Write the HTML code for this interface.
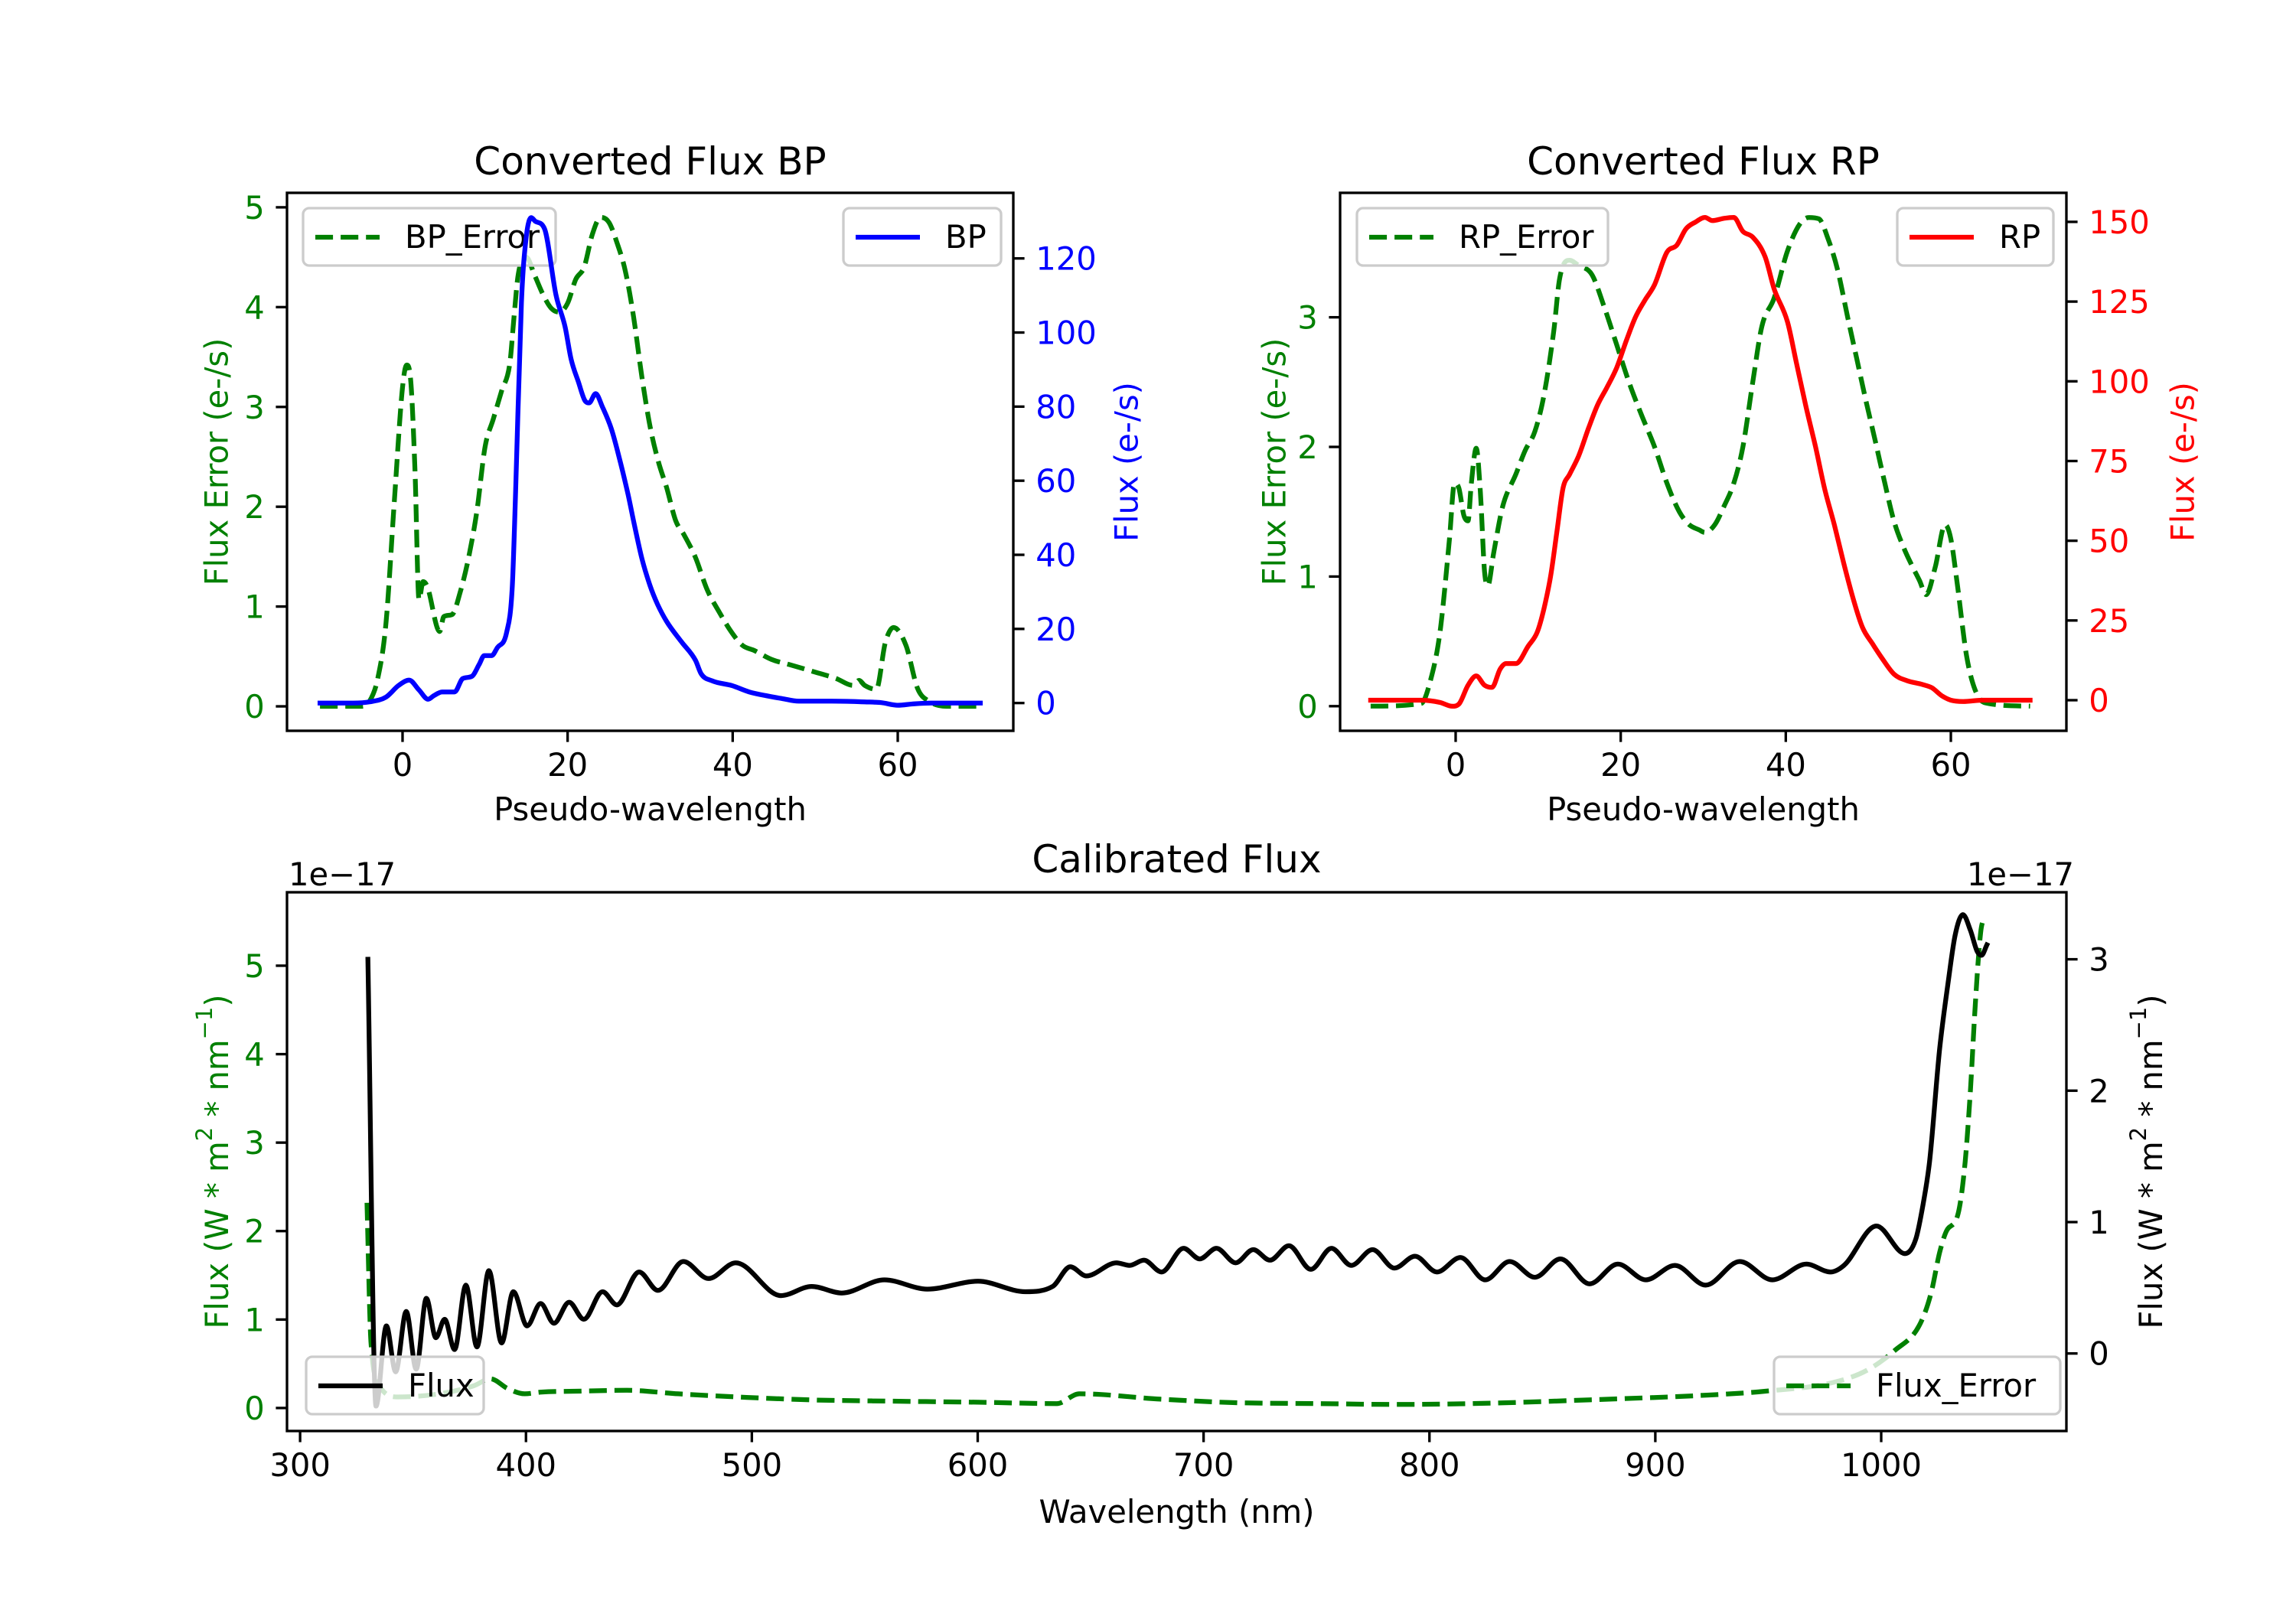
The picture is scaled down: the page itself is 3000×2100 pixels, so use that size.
<!DOCTYPE html>
<html><head><meta charset="utf-8"><style>
html,body{margin:0;padding:0;background:#fff;}
svg{display:block;font-family:"DejaVu Sans","Liberation Sans",sans-serif;}
</style></head><body>
<svg id="fig" xmlns="http://www.w3.org/2000/svg" width="3000" height="2100" viewBox="0 0 3000 2100">
<rect width="3000" height="2100" fill="#fff"/>
</svg>
<script>
// ---- BP panel data ----
const bpFluxX=[-10,-6,-4,-2,-0.5,0.8,2,3.1,3.8,4.8,6.3,7.3,8.4,9.3,9.9,10.8,11.5,12.6,13.3,13.7,14.4,15.0,15.6,16.1,17.2,18.6,19.7,20.4,21.3,22.1,22.6,23.4,24.2,25.3,26.2,27.3,28.1,29.0,30.0,30.9,32.0,33.8,35.5,36.2,37.5,39.9,42,44,46,48,52,56,58,60,62,64,70];
const bpFluxY=[0,0,0.3,1.6,4.7,6.2,3.5,1,2,3,3,6.6,7.2,10.5,12.8,12.8,15,19,31.6,57,108,126,131,130,128,110,101.5,93,86.7,81.6,81,83.5,80,74,66.7,56.5,48,39,31.6,26.6,22,16.5,11.5,7.8,6,4.7,3,2,1.2,0.5,0.5,0.3,0.1,-0.6,-0.2,0,0];
const bpErrX=[-10,-5,-4,-3,-2,-1,0,0.5,1,1.5,2,2.5,3,4.5,5,6,7,8,9,10,11,12,13,13.5,14,15,16,17,18,19,20,21,22,23,24,25,26,27,28,29,30,31,32,33.1,34.1,35.5,36.9,38.4,39.8,41.2,42.6,44.7,46.8,49.7,52.5,54.6,55.3,56,57.4,58.5,59.5,61,62.4,63.8,65.9,70];
const bpErrY=[0,0,0.05,0.28,0.84,2.05,3.2,3.42,3.25,2.37,1.07,1.25,1.2,0.75,0.9,0.92,1.15,1.49,1.95,2.6,2.88,3.16,3.44,3.9,4.32,4.5,4.32,4.13,3.99,3.95,4.04,4.28,4.4,4.73,4.9,4.85,4.64,4.36,3.9,3.3,2.8,2.45,2.19,1.86,1.72,1.49,1.17,0.94,0.75,0.61,0.56,0.47,0.42,0.35,0.28,0.21,0.26,0.21,0.17,0.64,0.79,0.61,0.18,0.05,0,0];
// ---- RP panel data ----
const rpErrX=[-10.3,-4.2,-3.0,-1.9,-0.75,-0.14,0.4,1.0,1.5,1.9,2.5,3.0,3.5,3.9,4.6,5.7,7.3,8.4,9.6,10.7,11.9,12.6,13.8,14.9,16.5,18.0,19.5,21.0,22.5,24.1,25.6,27.1,28.3,29.5,30.2,31.4,32.5,33.7,34.8,36.0,37.1,38.6,40.2,41.7,42.8,44.0,45.1,46.3,47.5,48.6,49.7,50.9,52.0,53.1,54.3,55.4,56.2,57.0,58.1,59.3,60.0,60.8,61.9,63.1,64.6,69.6];
const rpErrY=[0,0.02,0.21,0.57,1.29,1.72,1.68,1.47,1.43,1.72,1.99,1.65,1.04,0.93,1.18,1.54,1.79,1.97,2.12,2.4,2.9,3.3,3.44,3.4,3.33,3.08,2.79,2.5,2.25,2.0,1.72,1.5,1.4,1.36,1.34,1.4,1.54,1.72,2.0,2.5,2.93,3.15,3.51,3.72,3.77,3.76,3.61,3.36,3.0,2.68,2.36,2.03,1.72,1.43,1.22,1.07,0.97,0.86,1.07,1.4,1.29,0.93,0.39,0.1,0.02,0];
const rpFluxX=[-10.3,-4.2,-1.9,-0.4,0.4,1.5,2.5,3.5,4.4,5.4,6.1,7.3,8.8,9.9,10.7,11.5,12.3,13.0,13.8,14.9,16.1,17.2,18.4,19.5,20.7,21.8,22.9,24.1,25.6,26.8,27.9,29.1,30.2,31.1,32.5,33.7,34.8,36.0,37.5,38.6,40.2,41.3,42.4,43.6,44.7,45.9,47.0,48.2,49.3,50.5,51.6,53.1,54.7,56.6,57.7,58.9,60.0,61.5,63.8,69.6];
const rpFluxY=[0,0,-0.7,-1.9,-1.2,4.7,7.6,4.7,4.0,9.8,11.5,11.5,17,21.4,28.7,38.8,53.4,66.4,70.8,76.6,85.3,92.6,98.4,104.2,112.9,120.2,125.3,130.3,140.5,142.7,147.8,150,151.4,150.4,151.1,151.4,147,145.2,139,128.9,118.7,105.6,92.6,79.5,66.4,54.8,43.2,31.5,22.8,17.7,13.4,8.2,6.1,4.9,3.9,1.4,0,-0.4,0,0];
// ---- Calibrated panel data (units of 1e-17) ----
const calFluxX=[330,333.6,338.2,342.3,347.0,351.4,355.9,360.1,364.0,368.4,373.4,378.3,383.6,389.2,394.4,400.5,406.5,412.4,419.1,425.6,433.9,440.2,450.1,458.4,469.7,480.8,492.9,512.9,526.5,539.8,558.7,577.7,600.1,621.1,633.2,641.0,648.1,661.4,667.2,673.6,681.4,691.1,698.3,705.7,714.2,722.0,729.4,737.8,747.5,756.6,765.4,774.8,784.5,793.6,803.3,813.7,824.7,835.5,846.7,858.0,870.9,883.4,895.8,908.7,922.3,937.4,951.8,966.9,977.5,983.5,997.9,1010.5,1015.3,1018.6,1021.4,1025.9,1029.7,1032.7,1036.2,1039.5,1042.5,1044.4,1046.8];
const calFluxY=[3.0,-0.40,0.21,-0.14,0.32,-0.12,0.42,0.12,0.26,0.03,0.52,0.05,0.63,0.08,0.47,0.21,0.38,0.23,0.39,0.26,0.47,0.37,0.62,0.48,0.70,0.57,0.69,0.44,0.51,0.46,0.56,0.49,0.55,0.47,0.51,0.66,0.59,0.69,0.67,0.71,0.62,0.80,0.72,0.80,0.69,0.79,0.71,0.82,0.64,0.80,0.67,0.79,0.65,0.74,0.62,0.73,0.56,0.70,0.58,0.72,0.53,0.68,0.56,0.67,0.52,0.70,0.56,0.68,0.62,0.67,0.97,0.76,0.87,1.14,1.46,2.32,2.83,3.18,3.34,3.22,3.06,3.03,3.11];
const calErrX=[329.6,331.4,335.9,343.5,361.6,376.8,384.3,391.9,399.4,407,422,444.7,467.4,497.7,528,553.4,600,635,645,681,714,750,785,827.8,873.6,918.5,948.7,979,994,1006,1016.8,1022,1025.9,1028.9,1034.1,1037.2,1039.5,1041.7,1044,1045.5];
const calErrY=[2.32,0.73,0.22,0.125,0.16,0.25,0.33,0.22,0.16,0.18,0.19,0.2,0.16,0.12,0.09,0.08,0.065,0.05,0.16,0.10,0.06,0.05,0.04,0.055,0.095,0.14,0.19,0.29,0.43,0.65,0.93,1.29,1.76,2.0,2.2,2.79,3.59,4.58,5.37,5.55];
// ---- tick labels ----
const pwTicks=[0,20,40,60];
const bpErrTicks=[0,1,2,3,4,5];
const bpFluxTicks=[0,20,40,60,80,100,120];
const rpErrTicks=[0,1,2,3];
const rpFluxTicks=[0,25,50,75,100,125,150];
const wlTicks=[300,400,500,600,700,800,900,1000];
const calErrTicks=[0,1,2,3,4,5];
const calFluxTicks=[0,1,2,3];

const NS='http://www.w3.org/2000/svg';
const svg=document.getElementById('fig');
const FS=41.7, TL=14.6, LW=6.25, SW=3.33, PAD=29.2;
const DASH='23.1 10';
const GREEN='#008000';
function mk(tag,attrs,parent){const e=document.createElementNS(NS,tag);for(const k in attrs)e.setAttribute(k,attrs[k]);(parent||svg).appendChild(e);return e;}
function txt(s,x,y,opt,parent){const e=mk('text',Object.assign({x:x,y:y,'font-size':FS,fill:'#000'},opt||{}),parent);e.textContent=s;return e;}
function scale(d0,d1,p0,p1){return v=>p0+(v-d0)/(d1-d0)*(p1-p0);}

function monoPath(px,py){
  const n=Math.min(px.length,py.length);if(n<2)return '';
  const d=[],m=new Array(n);
  for(let i=0;i<n-1;i++)d.push((py[i+1]-py[i])/((px[i+1]-px[i])||1e-6));
  m[0]=d[0];m[n-1]=d[n-2];
  for(let i=1;i<n-1;i++){m[i]=(d[i-1]*d[i]<=0)?0:(d[i-1]+d[i])/2;}
  for(let i=0;i<n-1;i++){
    if(d[i]===0){m[i]=0;m[i+1]=0;continue;}
    const a=m[i]/d[i],b=m[i+1]/d[i],s=a*a+b*b;
    if(s>9){const t=3/Math.sqrt(s);m[i]=t*a*d[i];m[i+1]=t*b*d[i];}
  }
  let p='M'+px[0].toFixed(1)+','+py[0].toFixed(1);
  for(let i=0;i<n-1;i++){const h=(px[i+1]-px[i])/3;
    p+=' C'+(px[i]+h).toFixed(1)+','+(py[i]+m[i]*h).toFixed(1)+' '+(px[i+1]-h).toFixed(1)+','+(py[i+1]-m[i+1]*h).toFixed(1)+' '+px[i+1].toFixed(1)+','+py[i+1].toFixed(1);}
  return p;
}
function series(xs,ys,sx,sy,color,dashed,name,parent){
  const n=Math.min(xs.length,ys.length);
  const px=[],py=[];for(let i=0;i<n;i++){px.push(sx(xs[i]));py.push(sy(ys[i]));}
  const e=mk('path',{d:monoPath(px,py),fill:'none',stroke:color,'stroke-width':LW,'stroke-linejoin':'round','stroke-linecap':dashed?'butt':'square'},parent);
  if(dashed)e.setAttribute('stroke-dasharray',DASH);
  
  
  return e;
}
function legend(x,y,w,label,color,dashed,name){
  const g=mk('g',{});
  
  
  mk('rect',{x:x,y:y,width:w,height:75,rx:8,fill:'rgba(255,255,255,0.8)',stroke:'#cccccc','stroke-width':SW},g);
  const l=mk('line',{x1:x+16,y1:y+38,x2:x+100,y2:y+38,stroke:color,'stroke-width':LW},g);
  if(dashed)l.setAttribute('stroke-dasharray',DASH);
  txt(label,x+133,y+52,{},g);
}
function frame(L,T,R,B,name){
  const e=mk('rect',{x:L,y:T,width:R-L,height:B-T,fill:'none',stroke:'#000','stroke-width':SW});
  
  
}
function xTicks(ticks,sx,B,labY,name){
  const g=mk('g',{});
  
  
  ticks.forEach(t=>{const x=sx(t);mk('line',{x1:x,y1:B,x2:x,y2:B+TL,stroke:'#000','stroke-width':SW},g);
    txt(String(t),x,labY,{'text-anchor':'middle'},g);});
}
function yTicks(ticks,sy,X,side,color,name){
  const g=mk('g',{});
  
  
  ticks.forEach(t=>{const y=sy(t);const x2=side==='left'?X-TL:X+TL;
    mk('line',{x1:X,y1:y,x2:x2,y2:y,stroke:'#000','stroke-width':SW},g);
    txt(String(t),side==='left'?X-PAD:X+PAD,y+15,{'text-anchor':side==='left'?'end':'start',fill:color},g);});
}
function vlabel(s,x,y,color,name){
  const e=txt(s,x,y,{'text-anchor':'middle',fill:color,transform:'rotate(-90 '+x+' '+y+')','dominant-baseline':'central'});
  
  
  return e;
}
function label(s,x,y,size,name,anchor){
  const e=txt(s,x,y,{'text-anchor':anchor||'middle','font-size':size});
  
  
}

// ===== BP panel =====
(function(){
  const L=375,R=1324,T=252,B=955;
  const sx=scale(-14,74,L,R), syE=scale(-0.245,5.145,B,T), syF=scale(-7.5,137.7,B,T);
  series(bpErrX,bpErrY,sx,syE,GREEN,true,'bp-error-line');
  legend(396,272,330,'BP_Error',GREEN,true,'bp-error-legend');
  series(bpFluxX,bpFluxY,sx,syF,'#0000ff',false,'bp-flux-line');
  legend(1102,272,206,'BP','#0000ff',false,'bp-legend');
  frame(L,T,R,B,'bp-axes-frame');
  xTicks(pwTicks,sx,B,1014,'bp-x-ticks');
  yTicks(bpErrTicks,syE,L,'left',GREEN,'bp-error-y-ticks');
  yTicks(bpFluxTicks,syF,R,'right','#0000ff','bp-flux-y-ticks');
  label('Converted Flux BP',(L+R)/2,228,50,'bp-title');
  label('Pseudo-wavelength',(L+R)/2,1072,FS,'bp-x-axis-title');
  vlabel('Flux Error (e-/s)',283,(T+B)/2,GREEN,'bp-error-y-axis-title');
  vlabel('Flux (e-/s)',1472,(T+B)/2,'#0000ff','bp-flux-y-axis-title');
})();

// ===== RP panel =====
(function(){
  const L=1751,R=2700,T=252,B=955;
  const sx=scale(-14,74,L,R), syE=scale(-0.19,3.96,B,T), syF=scale(-9.6,159.1,B,T);
  series(rpErrX,rpErrY,sx,syE,GREEN,true,'rp-error-line');
  legend(1773,272,328,'RP_Error',GREEN,true,'rp-error-legend');
  series(rpFluxX,rpFluxY,sx,syF,'#ff0000',false,'rp-flux-line');
  legend(2479,272,204,'RP','#ff0000',false,'rp-legend');
  frame(L,T,R,B,'rp-axes-frame');
  xTicks(pwTicks,sx,B,1014,'rp-x-ticks');
  yTicks(rpErrTicks,syE,L,'left',GREEN,'rp-error-y-ticks');
  yTicks(rpFluxTicks,syF,R,'right','#ff0000','rp-flux-y-ticks');
  label('Converted Flux RP',(L+R)/2,228,50,'rp-title');
  label('Pseudo-wavelength',(L+R)/2,1072,FS,'rp-x-axis-title');
  vlabel('Flux Error (e-/s)',1665,(T+B)/2,GREEN,'rp-error-y-axis-title');
  vlabel('Flux (e-/s)',2852,(T+B)/2,'#ff0000','rp-flux-y-axis-title');
})();

// ===== Calibrated panel =====
(function(){
  const L=375,R=2700,T=1166,B=1870;
  const sx=scale(294.2,1082,L,R), syE=scale(-0.26,5.83,B,T), syF=scale(-0.59,3.51,B,T);
  const clip=mk('clipPath',{id:'calclip'});mk('rect',{x:L,y:T,width:R-L,height:B-T},clip);
  const g=mk('g',{'clip-path':'url(#calclip)'});
  series(calErrX,calErrY,sx,syE,GREEN,true,'calibrated-flux-error-line',g);
  series(calFluxX,calFluxY,sx,syF,'#000',false,'calibrated-flux-line',g);
  legend(400,1773,232,'Flux','#000',false,'flux-legend');
  legend(2318,1773,374,'Flux_Error',GREEN,true,'flux-error-legend');
  frame(L,T,R,B,'calibrated-axes-frame');
  xTicks(wlTicks,sx,B,1929,'wavelength-x-ticks');
  yTicks(calErrTicks,syE,L,'left',GREEN,'flux-error-y-ticks');
  yTicks(calFluxTicks,syF,R,'right','#000','flux-y-ticks');
  label('Calibrated Flux',(L+R)/2,1140,50,'calibrated-title');
  label('Wavelength (nm)',(L+R)/2,1990,FS,'wavelength-x-axis-title');
  label('1e\u221217',377,1157,FS,'left-offset-text','start');
  label('1e\u221217',2710,1157,FS,'right-offset-text','end');
  function unitLabel(x,color,name){
    const y=(T+B)/2;
    const e=mk('text',{x:x,y:y,'font-size':FS,fill:color,'text-anchor':'middle','dominant-baseline':'central',transform:'rotate(-90 '+x+' '+y+')'});
    
    
    const parts=[['Flux (W * m',0],['2',1],[' * nm',0],['\u22121',1],[')',0]];
    parts.forEach(p=>{const t=document.createElementNS(NS,'tspan');t.textContent=p[0];
      if(p[1]){t.setAttribute('font-size','29');t.setAttribute('dy','-16');}
      else if(e.childNodes.length){t.setAttribute('dy','16');}
      e.appendChild(t);});
  }
  unitLabel(283,GREEN,'flux-error-y-axis-title');
  unitLabel(2810,'#000','flux-y-axis-title');
})();
</script>
</body></html>
